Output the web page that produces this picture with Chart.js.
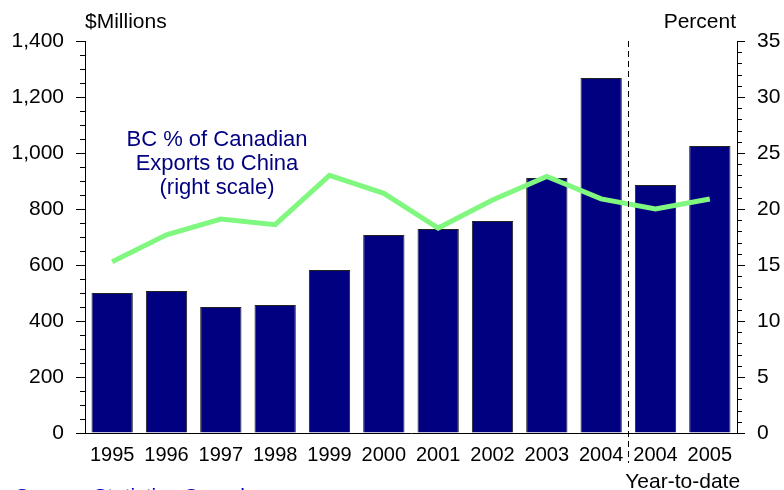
<!DOCTYPE html>
<html>
<head>
<meta charset="utf-8">
<script src="https://cdn.jsdelivr.net/npm/chart.js@4"></script>
<style>
  html, body { margin: 0; padding: 0; background: #fff; }
  #wrap { width: 784px; height: 490px; }
</style>
</head>
<body>
<div id="wrap"><canvas id="chart"></canvas></div>
<script>
const years = ["1995", "1996", "1997", "1998", "1999", "2000", "2001", "2002", "2003", "2004", "2004", "2005"];
const exportsMillions = [500, 507, 450, 457, 582, 707, 729, 757, 911, 1268, 886, 1025];
const bcSharePct = [15.3, 17.7, 19.1, 18.6, 23.0, 21.4, 18.3, 20.8, 22.9, 20.9, 20.0, 20.9];
const noteLines = ["BC % of Canadian", "Exports to China", "(right scale)"];

const FONT = "'Liberation Sans', Arial, sans-serif";
const NAVY = "#000080";

// dashed divider, minor ticks, titles and the note text
const extras = {
  id: "extras",
  afterDraw(chart) {
    const ctx = chart.ctx;
    const x = chart.scales.x;
    const yl = chart.scales.y;
    const yr = chart.scales.y2;
    const area = chart.chartArea;
    const xd = (x.getPixelForValue(9) + x.getPixelForValue(10)) / 2;

    ctx.save();
    ctx.strokeStyle = "#000";
    ctx.lineWidth = 1;

    // minor ticks
    ctx.beginPath();
    for (let v = 50; v < 1400; v += 50) {
      if (v % 200 === 0) continue;
      const py = Math.round(yl.getPixelForValue(v)) + 0.5;
      ctx.moveTo(area.left - 5, py);
      ctx.lineTo(area.left, py);
    }
    for (let v = 1; v < 35; v++) {
      if (v % 5 === 0) continue;
      const py = Math.round(yr.getPixelForValue(v)) + 0.5;
      ctx.moveTo(area.right, py);
      ctx.lineTo(area.right + 5, py);
    }
    ctx.stroke();

    ctx.setLineDash([6, 4]);
    ctx.beginPath();
    ctx.moveTo(Math.round(xd) + 0.5, area.top);
    ctx.lineTo(Math.round(xd) + 0.5, area.bottom + 30);
    ctx.stroke();
    ctx.setLineDash([]);

    ctx.font = "21px " + FONT;
    ctx.fillStyle = "#000";
    ctx.textBaseline = "middle";
    ctx.textAlign = "left";
    ctx.fillText("$Millions", area.left, 22);
    ctx.textAlign = "right";
    ctx.fillText("Percent", area.right - 1, 22);

    ctx.textAlign = "center";
    ctx.fillText("Year-to-date", (x.getPixelForValue(10) + x.getPixelForValue(11)) / 2, 482);

    ctx.font = "22px " + FONT;
    ctx.fillStyle = NAVY;
    noteLines.forEach((t, i) => ctx.fillText(t, 217, 140 + i * 24));

    ctx.textAlign = "left";
    ctx.fillStyle = "#0000c0";
    ctx.textBaseline = "alphabetic";
    ctx.font = "21px " + FONT;
    ctx.fillText("Source: Statistics Canada", 15, 503);
    ctx.restore();
  }
};

new Chart(document.getElementById("chart"), {
  data: {
    labels: years,
    datasets: [
      {
        type: "line",
        data: bcSharePct,
        yAxisID: "y2",
        borderColor: "#80f880",
        borderWidth: 5,
        pointRadius: 0,
        tension: 0,
        order: 0
      },
      {
        type: "bar",
        data: exportsMillions,
        yAxisID: "y",
        backgroundColor: NAVY,
        borderColor: "#222",
        borderWidth: 1,
        barPercentage: 0.76,
        categoryPercentage: 1,
        order: 1
      }
    ]
  },
  options: {
    responsive: true,
    maintainAspectRatio: false,
    animation: false,
    layout: { padding: { top: 41, left: 0, right: 0, bottom: 0 } },
    plugins: { legend: { display: false }, tooltip: { enabled: false } },
    scales: {
      x: {
        grid: { display: false },
        border: { display: true, color: "#000", width: 1 },
        ticks: { color: "#000", font: { size: 20, family: FONT }, maxRotation: 0, autoSkip: false, padding: 2 },
        afterFit(s) { s.height = 57; }
      },
      y: {
        position: "left",
        min: 0,
        max: 1400,
        grid: { drawOnChartArea: false, color: "#000", tickLength: 9 },
        border: { display: true, color: "#000", width: 1 },
        ticks: {
          stepSize: 200,
          color: "#000",
          padding: 12,
          font: { size: 21, family: FONT },
          callback: v => v.toLocaleString("en-US")
        },
        afterFit(s) { s.width = 85; }
      },
      y2: {
        position: "right",
        min: 0,
        max: 35,
        grid: { drawOnChartArea: false, color: "#000", tickLength: 8 },
        border: { display: true, color: "#000", width: 1 },
        ticks: {
          stepSize: 5,
          color: "#000",
          padding: 12,
          font: { size: 21, family: FONT }
        },
        afterFit(s) { s.width = 47; }
      }
    }
  },
  plugins: [extras]
});
</script>
</body>
</html>
